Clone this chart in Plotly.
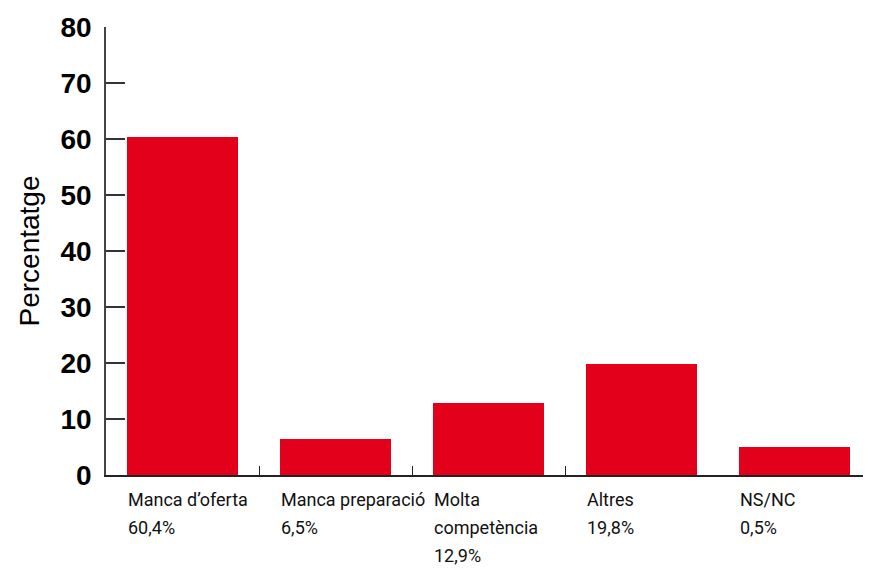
import plotly.graph_objects as go

categories = ["Manca d’oferta", "Manca preparació", "Molta\ncompetència", "Altres", "NS/NC"]
value_labels = ["60,4%", "6,5%", "12,9%", "19,8%", "0,5%"]
bar_heights = [60.4, 6.5, 12.9, 19.8, 5.0]
y_ticks = [0, 10, 20, 30, 40, 50, 60, 70, 80]
boundaries = [0.5, 1.5, 2.5]

RED = "#E2001A"
xs = list(range(len(categories)))

fig = go.Figure()
fig.add_trace(go.Bar(x=xs, y=bar_heights, width=0.725, marker=dict(color=RED, line=dict(width=0)),
                     hoverinfo="skip", showlegend=False))

LABEL_FONT = dict(family="Roboto, Liberation Sans, sans-serif", size=18, color="#111")
for i, (c, v) in enumerate(zip(categories, value_labels)):
    lines = c.split("\n") + [v]
    for k, line in enumerate(lines):
        fig.add_annotation(x=i - 0.3625, xref="x", y=0, yref="paper", xanchor="left", yanchor="top",
                           text=line, showarrow=False, align="left", xshift=0, yshift=-13 - 28 * k,
                           borderpad=0, font=LABEL_FONT)

# page body has an 8px margin, compensate so the plot lands where the reference has it
fig.update_layout(
    width=871, height=570,
    margin=dict(l=98, r=0, t=19, b=103),
    paper_bgcolor="white", plot_bgcolor="white",
    bargap=0,
    xaxis=dict(range=[-0.5, 4.55], tickvals=boundaries, ticktext=["", "", ""], ticks="inside",
               ticklen=9, tickwidth=1.2, tickcolor="#222", showline=True, linecolor="#222",
               linewidth=1.5, showgrid=False, zeroline=False, fixedrange=True, automargin=False),
    yaxis=dict(range=[0, 80], tickvals=y_ticks, ticks="inside", ticklen=19, tickwidth=1.5,
               tickcolor="#333", showline=True, linecolor="#444", linewidth=1.5,
               showgrid=False, zeroline=False, ticklabelstandoff=7, automargin=False,
               tickfont=dict(family="Liberation Sans, Arial, sans-serif", size=28, color="black",
                             weight="bold"),
               title=dict(text="Percentatge", standoff=13,
                          font=dict(family="Liberation Sans, Arial, sans-serif", size=28, color="black"))),
)

fig.write_html("out.html")
